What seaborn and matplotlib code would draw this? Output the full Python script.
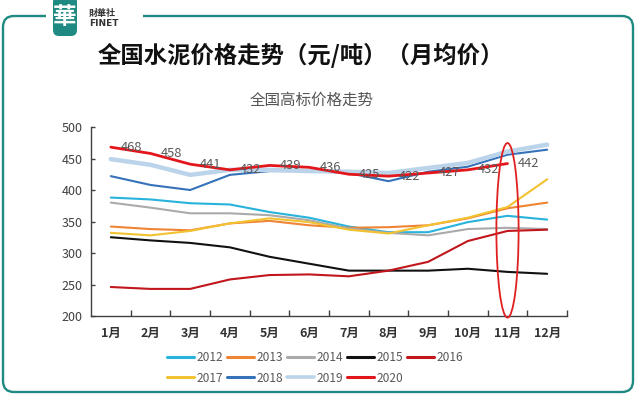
import numpy as np
import pandas as pd
import matplotlib
matplotlib.use('Agg')
import matplotlib.pyplot as plt
import seaborn as sns
from matplotlib.patches import FancyBboxPatch, Ellipse, Rectangle
from matplotlib.lines import Line2D

months = ['1月', '2月', '3月', '4月', '5月', '6月', '7月', '8月', '9月', '10月', '11月', '12月']
years = ['2012', '2013', '2014', '2015', '2016', '2017', '2018', '2019', '2020']

v2012 = [388, 385, 379, 377, 365, 356, 342, 333, 333, 349, 359, 353]
v2013 = [342, 338, 336, 347, 351, 344, 340, 341, 344, 355, 371, 380]
v2014 = [380, 372, 363, 363, 360, 352, 339, 332, 328, 338, 340, 338]
v2015 = [325, 320, 316, 309, 294, 283, 272, 272, 272, 275, 270, 267]
v2016 = [246, 243, 243, 258, 265, 266, 263, 272, 286, 319, 335, 337]
v2017 = [332, 328, 335, 347, 355, 349, 337, 331, 344, 356, 373, 417]
v2018 = [422, 408, 400, 424, 430, 430, 427, 414, 429, 437, 456, 464]
v2019 = [449, 440, 424, 432, 432, 430, 429, 427, 435, 443, 461, 472]
v2020 = [468, 458, 441, 432, 439, 436, 425, 422, 427, 432, 442]

series = dict(zip(years, [v2012, v2013, v2014, v2015, v2016, v2017, v2018, v2019, v2020]))
colors = {'2012': '#27b3dc', '2013': '#ee8434', '2014': '#aaaaaa', '2015': '#111111',
          '2016': '#c0161c', '2017': '#f2c231', '2018': '#3672ba', '2019': '#bcd4ea',
          '2020': '#e3161b'}
widths = {y: 1.5 for y in years}
widths['2019'] = 3.2
widths['2020'] = 2.0

rows = []
for y in years:
    for i, v in enumerate(series[y]):
        rows.append({'year': y, 'm': i, 'v': v})
df = pd.DataFrame(rows)

sns.set_theme(style='white')
plt.rcParams['font.family'] = ['Noto Sans CJK SC', 'DejaVu Sans']

fig = plt.figure(figsize=(6.4, 3.97), dpi=100)
fig.patch.set_facecolor('white')

# decorative background layer in pixel coordinates
bg = fig.add_axes([0, 0, 1, 1], zorder=0)
bg.set_xlim(0, 640)
bg.set_ylim(397, 0)
bg.axis('off')
teal = '#1f8a82'
bg.add_patch(FancyBboxPatch((3, 16), 630, 376, boxstyle='round,pad=0,rounding_size=11',
                            fill=False, ec=teal, lw=1.7))
bg.add_patch(Rectangle((46, 8), 97, 14, fc='white', ec='none'))
bg.add_patch(FancyBboxPatch((53, -4), 24, 40, boxstyle='round,pad=0,rounding_size=6',
                            fc=teal, ec='none'))
bg.text(65, 17, '華', color='white', fontsize=17, ha='center', va='center', fontweight='bold')
bg.text(89, 13, '財華社', fontsize=6.5, fontweight='bold', color='#333333', va='center')
bg.text(89, 24, 'FINET', fontsize=6.5, fontweight='bold', color='#333333', va='center',
        family=['DejaVu Sans'])
bg.text(98, 55, '全国水泥价格走势（元/吨）（月均价）', fontsize=16.8, fontweight='bold',
        color='#111111', va='center', ha='left')
bg.text(312, 100, '全国高标价格走势', fontsize=11.2, color='#555555', ha='center', va='center')

ax = fig.add_axes([91 / 640, 1 - 316 / 397, (567 - 91) / 640, (316 - 127) / 397], zorder=1)
ax.patch.set_alpha(0)

for y in years:
    sub = df[df['year'] == y]
    sns.lineplot(data=sub, x='m', y='v', color=colors[y], lw=widths[y], ax=ax,
                 legend=False, sort=False, estimator=None)

for i, v in enumerate(v2020):
    ax.annotate(str(v), (i, v), xytext=(15, 0), textcoords='offset points',
                ha='center', va='center', fontsize=9.3, color='#595959')

ax.add_patch(Ellipse((10, 336), width=0.56, height=277, fill=False, ec='#e02020',
                     lw=1.3, clip_on=False, zorder=5))

ax.set_xlim(-0.5, 11.5)
ax.set_ylim(200, 500)
ax.set_yticks(range(200, 501, 50))
ax.set_xticks(range(12))
ax.set_xticklabels(months)
ax.set_xticks(np.arange(0.5, 12, 1), minor=True)
ax.tick_params(axis='x', which='major', length=0, pad=8, labelsize=9, labelcolor='#333333')
ax.tick_params(axis='x', which='minor', direction='in', length=4, width=1, color='#404040', bottom=True)
ax.tick_params(axis='y', which='major', direction='in', length=3, width=1, color='#404040',
               labelsize=9, labelcolor='#404040', pad=6, left=True)
for lab in ax.get_xticklabels():
    lab.set_fontweight('bold')
ax.set_xlabel('')
ax.set_ylabel('')
for s in ['top', 'right']:
    ax.spines[s].set_visible(False)
for s in ['left', 'bottom']:
    ax.spines[s].set_color('#404040')
    ax.spines[s].set_linewidth(1)

order = ['2012', '2017', '2013', '2018', '2014', '2019', '2015', '2020', '2016']
handles = [Line2D([0], [0], color=colors[y], lw=2.2 if y != '2019' else 2.6) for y in order]
leg = fig.legend(handles, order, loc='center', bbox_to_anchor=(315 / 640, 1 - 368 / 397),
                 ncol=5, frameon=False, fontsize=8.6, handlelength=2.3, handletextpad=0.2,
                 columnspacing=0.3, labelspacing=0.6)
for t in leg.get_texts():
    t.set_color('#595959')

fig.savefig('out.png', dpi=100, facecolor='white')
